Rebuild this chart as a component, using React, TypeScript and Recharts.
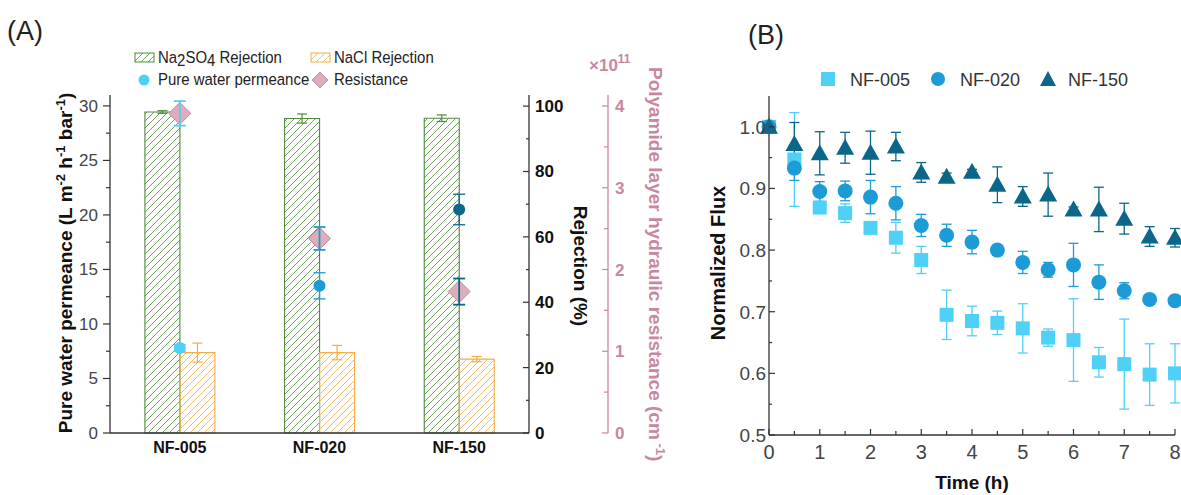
import React from 'react';
import { ComposedChart, Bar, Scatter, XAxis, YAxis, ErrorBar } from 'recharts';

// ---------- Panel A data ----------
const membranes = ['NF-005', 'NF-020', 'NF-150'];
const na2so4Rejection = [98.2, 96.2, 96.3];
const na2so4RejectionErr = [0.4, 1.4, 1.0];
const naclRejection = [24.6, 24.6, 22.6];
const naclRejectionErr = [2.9, 2.2, 0.8];
const permeance = [7.8, 13.5, 20.5];
const permeanceErr = [0.3, 1.2, 1.4];
const resistance = [3.91, 2.38, 1.73]; // x10^11 cm^-1
const resistanceErr = [0.15, 0.14, 0.16];

const permTicks = [0, 2.5, 5, 7.5, 10, 12.5, 15, 17.5, 20, 22.5, 25, 27.5, 30];
const rejTicks = [0, 10, 20, 30, 40, 50, 60, 70, 80, 90, 100];
const resTicks = [0, 0.5, 1, 1.5, 2, 2.5, 3, 3.5, 4];

// ---------- Panel B data ----------
const timeH = [0, 0.5, 1, 1.5, 2, 2.5, 3, 3.5, 4, 4.5, 5, 5.5, 6, 6.5, 7, 7.5, 8];
const flux005 = [1.0, 0.947, 0.869, 0.86, 0.836, 0.82, 0.784, 0.695, 0.685, 0.682, 0.673, 0.658, 0.654, 0.618, 0.615, 0.598, 0.6];
const flux005Err = [0, 0.076, 0.006, 0.015, 0.006, 0.025, 0.022, 0.04, 0.024, 0.019, 0.04, 0.014, 0.067, 0.024, 0.073, 0.05, 0.048];
const flux020 = [1.0, 0.933, 0.895, 0.896, 0.886, 0.876, 0.84, 0.824, 0.813, 0.8, 0.78, 0.768, 0.776, 0.748, 0.734, 0.72, 0.718];
const flux020Err = [0, 0.02, 0.016, 0.016, 0.027, 0.027, 0.018, 0.018, 0.019, 0.008, 0.018, 0.012, 0.035, 0.028, 0.013, 0.006, 0.006];
const flux150 = [1.0, 0.972, 0.957, 0.966, 0.958, 0.968, 0.926, 0.919, 0.927, 0.906, 0.887, 0.89, 0.866, 0.866, 0.851, 0.822, 0.82];
const flux150Err = [0, 0.035, 0.035, 0.025, 0.035, 0.023, 0.016, 0.006, 0.004, 0.029, 0.016, 0.035, 0.004, 0.036, 0.025, 0.016, 0.015];

const fluxTicks = [0.5, 0.55, 0.6, 0.65, 0.7, 0.75, 0.8, 0.85, 0.9, 0.95, 1.0];
const timeTicks = [0, 0.5, 1, 1.5, 2, 2.5, 3, 3.5, 4, 4.5, 5, 5.5, 6, 6.5, 7, 7.5, 8];

// ---------- styles ----------
const C005 = '#4fd0f7';
const C020 = '#1c9bd7';
const C150 = '#0c6689';
const mColors = [C005, C020, C150];
const GREEN = '#4d8b3a';
const ORANGE = '#f2ad46';
const PINK = '#c9879f';
const DFILL = '#dcaebb';
const DSTROKE = '#c48aa0';
const AXIS = '#333';
const FONT = "'Liberation Sans', Arial, sans-serif";

const barRows = membranes.map((m, i) => ({
  cat: m,
  na2so4: na2so4Rejection[i],
  na2so4Err: na2so4RejectionErr[i],
  nacl: naclRejection[i],
  naclErr: naclRejectionErr[i],
  res: resistance[i],
}));
const permRows = membranes.map((m, i) => [{ cat: m, perm: permeance[i], permErr: permeanceErr[i] }]);
const resRows = membranes.map((m, i) => [{ cat: m, res: resistance[i], resErr: resistanceErr[i] }]);

const mk = (vals: number[], errs: number[]) => timeH.map((t, i) => ({ t, v: vals[i], e: errs[i] }));
const rows005 = mk(flux005, flux005Err);
const rows020 = mk(flux020, flux020Err);
const rows150 = mk(flux150, flux150Err);

const isMult = (v: number, step: number) => Math.abs(v / step - Math.round(v / step)) < 1e-6;

// ---------- tick renderers ----------
const PermTick = (p: any) => {
  const { x, y, payload } = p;
  const major = isMult(payload.value, 5);
  return (
    <g>
      <line x1={x - (major ? 7 : 4)} x2={x} y1={y} y2={y} stroke={AXIS} strokeWidth={1.2} />
      {major && (
        <text x={x - 12} y={y + 6} textAnchor="end" fontSize={17} fill="#444">{payload.value}</text>
      )}
    </g>
  );
};
const RejTick = (p: any) => {
  const { x, y, payload } = p;
  const major = isMult(payload.value, 20);
  return (
    <g>
      <line x1={x - (major ? 6 : 3)} x2={x} y1={y} y2={y} stroke={AXIS} strokeWidth={1.2} />
      {major && (
        <text x={x + 6} y={y + 6} textAnchor="start" fontSize={17} fontWeight="bold" fill="#111">{payload.value}</text>
      )}
    </g>
  );
};
const ResTick = (p: any) => {
  const { x, y, payload } = p;
  const major = isMult(payload.value, 1);
  return (
    <g>
      <line x1={x - (major ? 6 : 4)} x2={x} y1={y} y2={y} stroke={PINK} strokeWidth={1.2} />
      {major && (
        <text x={x + 7} y={y + 6} textAnchor="start" fontSize={17} fontWeight="bold" fill={PINK}>{payload.value}</text>
      )}
    </g>
  );
};
const CatTick = (p: any) => {
  const { x, y, payload } = p;
  return (
    <text x={x} y={y + 20} textAnchor="middle" fontSize={16} fontWeight="bold" fill="#111">{payload.value}</text>
  );
};
const FluxTick = (p: any) => {
  const { x, y, payload } = p;
  const major = isMult(payload.value, 0.1);
  return (
    <g>
      <line x1={x} x2={x + (major ? 6 : 3)} y1={y} y2={y} stroke={AXIS} strokeWidth={1.2} />
      {major && (
        <text x={x - 3} y={y + 7} textAnchor="end" fontSize={19} fill="#444">{payload.value.toFixed(1)}</text>
      )}
    </g>
  );
};
const TimeTick = (p: any) => {
  const { x, y, payload } = p;
  const major = isMult(payload.value, 1);
  return (
    <g>
      <line x1={x} x2={x} y1={y} y2={y - (major ? 6 : 4)} stroke={AXIS} strokeWidth={1.2} />
      {major && (
        <text x={x} y={y + 24} textAnchor="middle" fontSize={20} fill="#444">{payload.value}</text>
      )}
    </g>
  );
};

// ---------- marker shapes ----------
const circleShape = (color: string, r: number) => (p: any) => <circle cx={p.cx} cy={p.cy} r={r} fill={color} />;
const diamondShape = (p: any) => (
  <polygon
    points={`${p.cx},${p.cy - 11} ${p.cx + 11},${p.cy} ${p.cx},${p.cy + 11} ${p.cx - 11},${p.cy}`}
    fill={DFILL}
    stroke={DSTROKE}
    strokeWidth={1}
  />
);
const emptyShape = () => <g />;
const squareShape = (p: any) => <rect x={p.cx - 7} y={p.cy - 7} width={14} height={14} fill={C005} />;
const triShape = (p: any) => (
  <polygon points={`${p.cx},${p.cy - 9} ${p.cx + 9},${p.cy + 7} ${p.cx - 9},${p.cy + 7}`} fill={C150} />
);

const Hatch = ({ id, color }: { id: string; color: string }) => (
  <pattern id={id} patternUnits="userSpaceOnUse" width={7} height={7}>
    <path d="M-1,1 L1,-1 M0,7 L7,0 M6,8 L8,6" stroke={color} strokeWidth={0.9} />
  </pattern>
);

const axisLine = { stroke: AXIS, strokeWidth: 1.3 };
const legTxt = (x: number, y: number) => `translate(${x},${y}) scale(0.88,1)`;

export default function App() {
  return (
    <div style={{ position: 'absolute', left: 0, top: 0, width: 1181, height: 495, background: '#fff', fontFamily: FONT }}>
      {/* Panel A */}
      <div style={{ position: 'absolute', left: 0, top: 0 }}>
        <ComposedChart
          width={700}
          height={495}
          data={barRows}
          margin={{ top: 95, right: 42, bottom: 32, left: 60 }}
          barCategoryGap="25%"
          barGap={0}
        >
          <defs>
            <Hatch id="hatchG" color="#5b9a47" />
            <Hatch id="hatchO" color="#f4b457" />
          </defs>
          <XAxis xAxisId="b" dataKey="cat" allowDuplicatedCategory={false} height={30} tickSize={0} tickMargin={0}
            tickLine={false} axisLine={axisLine} tick={CatTick} interval={0} />
          <XAxis xAxisId="t" dataKey="cat" orientation="top" allowDuplicatedCategory={false} height={0}
            tick={false} tickLine={false} axisLine={axisLine} />
          <YAxis yAxisId="perm" orientation="left" type="number" width={50} domain={[0, 31]} ticks={permTicks}
            interval={0} tickSize={0} tickMargin={0} tickLine={false} axisLine={axisLine} tick={PermTick} />
          <YAxis yAxisId="rej" orientation="right" type="number" width={79} domain={[0, 103.4]} ticks={rejTicks}
            interval={0} tickSize={0} tickMargin={0} tickLine={false} axisLine={axisLine} tick={RejTick} />
          <YAxis yAxisId="res" orientation="right" type="number" width={50} domain={[0, 4.135]} ticks={resTicks}
            interval={0} tickSize={0} tickMargin={0} tickLine={false} axisLine={{ stroke: PINK, strokeWidth: 1.3 }} tick={ResTick} />
          <Bar xAxisId="b" yAxisId="rej" dataKey="na2so4" fill="url(#hatchG)" stroke={GREEN} strokeWidth={1.1} isAnimationActive={false}>
            <ErrorBar dataKey="na2so4Err" direction="y" width={5} stroke={GREEN} strokeWidth={1.2} />
          </Bar>
          <Bar xAxisId="b" yAxisId="rej" dataKey="nacl" fill="url(#hatchO)" stroke={ORANGE} strokeWidth={1.1} isAnimationActive={false}>
            <ErrorBar dataKey="naclErr" direction="y" width={5} stroke={ORANGE} strokeWidth={1.2} />
          </Bar>
          <Scatter xAxisId="b" yAxisId="res" dataKey="res" shape={diamondShape} isAnimationActive={false} {...({ zIndex: 550 } as any)} />
          {membranes.map((m, i) => (
            <Scatter key={'re' + m} xAxisId="b" yAxisId="res" data={resRows[i]} dataKey="res" shape={emptyShape} isAnimationActive={false}>
              <ErrorBar dataKey="resErr" direction="y" width={6} stroke={mColors[i]} strokeWidth={1.8} {...({ zIndex: 700 } as any)} />
            </Scatter>
          ))}
          {membranes.map((m, i) => (
            <Scatter key={'pe' + m} xAxisId="b" yAxisId="perm" data={permRows[i]} dataKey="perm" shape={circleShape(mColors[i], 6)} isAnimationActive={false}>
              <ErrorBar dataKey="permErr" direction="y" width={6} stroke={mColors[i]} strokeWidth={1.3} />
            </Scatter>
          ))}
        </ComposedChart>
      </div>

      {/* Panel B */}
      <div style={{ position: 'absolute', left: 700, top: 0 }}>
        <ComposedChart width={481} height={495} margin={{ top: 96, right: 6, bottom: 30, left: 20 }}>
          <XAxis xAxisId="b" type="number" dataKey="t" domain={[0, 8]} ticks={timeTicks} interval={0} height={30}
            tickSize={0} tickMargin={0} tickLine={false} axisLine={axisLine} tick={TimeTick} />
          <XAxis xAxisId="t" type="number" dataKey="t" orientation="top" domain={[0, 8]} height={0}
            tick={false} tickLine={false} axisLine={axisLine} />
          <YAxis yAxisId="l" type="number" domain={[0.5, 1.05]} ticks={fluxTicks} interval={0} width={49}
            tickSize={0} tickMargin={0} tickLine={false} axisLine={axisLine} tick={FluxTick} />
          <YAxis yAxisId="r" orientation="right" type="number" domain={[0.5, 1.05]} width={0}
            tick={false} tickLine={false} axisLine={axisLine} />
          <Scatter xAxisId="b" yAxisId="l" data={rows005} dataKey="v" shape={squareShape} isAnimationActive={false}>
            <ErrorBar dataKey="e" direction="y" width={5} stroke={C005} strokeWidth={1.3} />
          </Scatter>
          <Scatter xAxisId="b" yAxisId="l" data={rows020} dataKey="v" shape={circleShape(C020, 7.5)} isAnimationActive={false}>
            <ErrorBar dataKey="e" direction="y" width={5} stroke={C020} strokeWidth={1.3} />
          </Scatter>
          <Scatter xAxisId="b" yAxisId="l" data={rows150} dataKey="v" shape={triShape} isAnimationActive={false}>
            <ErrorBar dataKey="e" direction="y" width={5} stroke={C150} strokeWidth={1.3} />
          </Scatter>
        </ComposedChart>
      </div>

      {/* Titles, legends and labels */}
      <svg width={1181} height={495} style={{ position: 'absolute', left: 0, top: 0, pointerEvents: 'none', overflow: 'hidden' }}>
        <defs>
          <Hatch id="lhatchG" color="#5b9a47" />
          <Hatch id="lhatchO" color="#f4b457" />
        </defs>
        <text x={7} y={40} fontSize={27} fill="#222">(A)</text>
        <text x={748} y={44} fontSize={27} fill="#222">(B)</text>

        {/* Legend A */}
        <rect x={135} y={53} width={19} height={9} fill="url(#lhatchG)" stroke={GREEN} strokeWidth={1} />
        <text transform={legTxt(158, 63)} fontSize={17} fill="#222">
          Na<tspan dy={3}>2</tspan><tspan dy={-3}>SO</tspan><tspan dy={3}>4</tspan><tspan dy={-3}> Rejection</tspan>
        </text>
        <rect x={311} y={53} width={19} height={9} fill="url(#lhatchO)" stroke={ORANGE} strokeWidth={1} />
        <text transform={legTxt(334, 63)} fontSize={17} fill="#222">NaCl Rejection</text>
        <circle cx={144} cy={80} r={5.5} fill={C005} />
        <text transform={legTxt(158, 85)} fontSize={17} fill="#222">Pure water permeance</text>
        <polygon points="320,72 328,80 320,88 312,80" fill={DFILL} stroke={DSTROKE} strokeWidth={1} />
        <text transform={legTxt(334, 85)} fontSize={17} fill="#222">Resistance</text>

        {/* Axis titles A */}
        <text transform="translate(72,263) rotate(-90)" textAnchor="middle" fontSize={19} fontWeight="bold" fill="#111">
          Pure water permeance (L m<tspan dy={-7} fontSize={13}>-2</tspan><tspan dy={7}> h</tspan>
          <tspan dy={-7} fontSize={13}>-1</tspan><tspan dy={7}> bar</tspan><tspan dy={-7} fontSize={13}>-1</tspan><tspan dy={7}>)</tspan>
        </text>
        <text transform="translate(574,266) rotate(90)" textAnchor="middle" fontSize={19} fontWeight="bold" fill="#111">Rejection (%)</text>
        <text x={589} y={71} fontSize={17} fontWeight="bold" fill={PINK}>×10<tspan dy={-8} fontSize={12}>11</tspan></text>
        <text transform="translate(649,67) rotate(90)" textAnchor="start" fontSize={19} fontWeight="bold" fill={PINK}>
          Polyamide layer hydraulic resistance (cm<tspan dy={-7} fontSize={13}> -1</tspan><tspan dy={7}>)</tspan>
        </text>

        {/* Legend B */}
        <rect x={821} y={72} width={14} height={14} fill={C005} />
        <text x={850} y={86} fontSize={18} fill="#333">NF-005</text>
        <circle cx={938} cy={79} r={7} fill={C020} />
        <text x={960} y={86} fontSize={18} fill="#333">NF-020</text>
        <polygon points="1048,71 1056,86 1040,86" fill={C150} />
        <text x={1068} y={86} fontSize={18} fill="#333">NF-150</text>

        {/* Axis titles B */}
        <text transform="translate(725,263) rotate(-90)" textAnchor="middle" fontSize={20} fontWeight="bold" fill="#111">Normalized Flux</text>
        <text x={972} y={489} textAnchor="middle" fontSize={19} fontWeight="bold" fill="#111">Time (h)</text>
      </svg>
    </div>
  );
}
